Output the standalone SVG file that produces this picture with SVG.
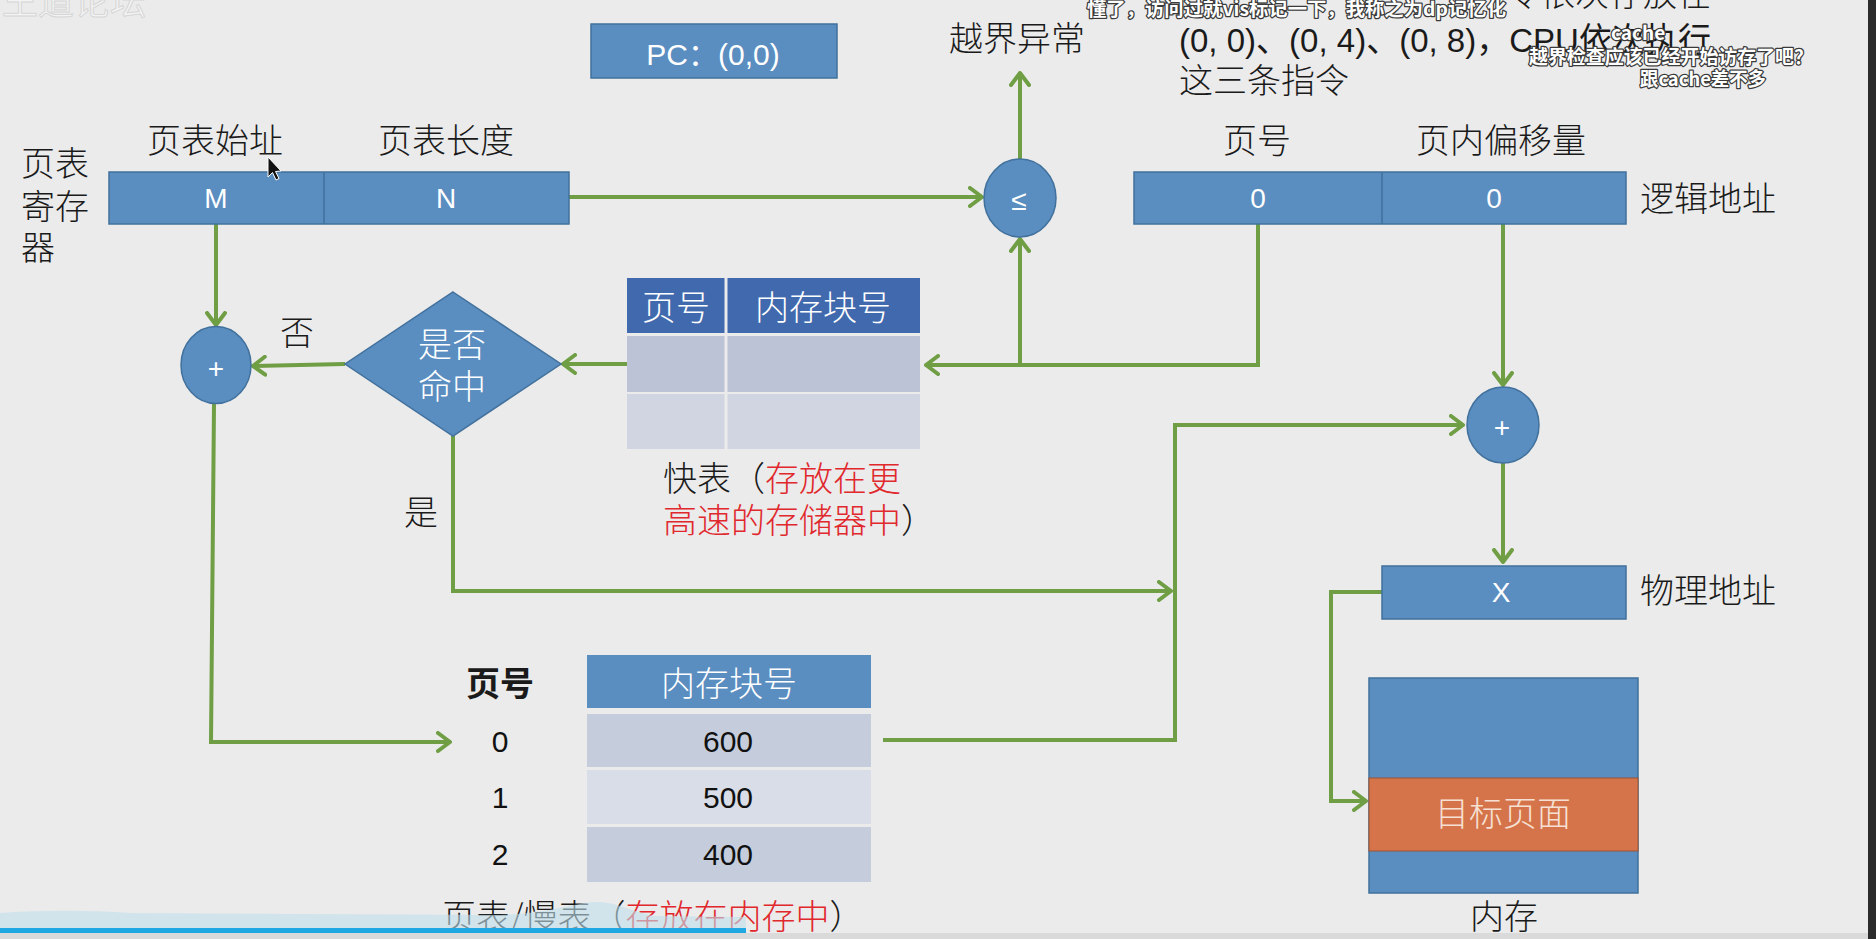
<svg xmlns="http://www.w3.org/2000/svg" width="1876" height="939" viewBox="0 0 1876 939">
<defs>
<style>
.bg{fill:#ebebeb}
.box{fill:#5a8dc0;stroke:#41719c;stroke-width:1.5}
.cj{font-family:"Noto Sans CJK SC",sans-serif;font-size:34px;font-weight:300;fill:#1a1a1a}
.cjw{font-family:"Noto Sans CJK SC",sans-serif;font-size:34px;font-weight:300;fill:#ffffff}
.lat{font-family:"Liberation Sans","Noto Sans CJK SC",sans-serif;font-size:28px;fill:#ffffff}
.num{font-family:"Liberation Sans","Noto Sans CJK SC",sans-serif;font-size:30px;fill:#111111}
.red{fill:#e0282d}
.mid{text-anchor:middle}
.con{fill:none;stroke:#6f9e45;stroke-width:4;stroke-linejoin:miter}
.arr{marker-end:url(#ah)}
.dm{font-family:"Noto Sans CJK SC",sans-serif;font-size:19px;font-weight:bold;fill:#ffffff;stroke:#3a3a3a;stroke-width:2.5;paint-order:stroke;stroke-linejoin:round}
</style>
<marker id="ah" viewBox="0 0 16 22" refX="14" refY="11" markerWidth="16" markerHeight="22" markerUnits="userSpaceOnUse" orient="auto">
<path d="M2,2 L14,11 L2,20" fill="none" stroke="#6f9e45" stroke-width="4" stroke-linecap="round" stroke-linejoin="round"/>
</marker>
</defs>

<rect class="bg" x="0" y="0" width="1876" height="939"/>

<!-- faint watermark -->
<text x="2" y="15" style="font-family:'Noto Sans CJK SC',sans-serif;font-size:36px;fill:#f3f3f3;stroke:#d6d6d6;stroke-width:1">王道论坛</text>

<!-- connectors -->
<g id="connectors">
<path class="con arr" d="M569,197 L982,197"/>
<path class="con arr" d="M1020,159 L1020,73"/>
<path class="con arr" d="M216,224 L216,325"/>
<path class="con arr" d="M1258,224 L1258,365 L926,365"/>
<path class="con arr" d="M1020,365 L1020,239"/>
<path class="con arr" d="M627,364 L563,364"/>
<path class="con arr" d="M345,364 L253,366"/>
<path class="con arr" d="M214,404 L211,742 L450,742"/>
<path class="con arr" d="M453,436 L453,591 L1171,591"/>
<path class="con arr" d="M883,740 L1175,740 L1175,425 L1463,425"/>
<path class="con arr" d="M1503,224 L1503,385"/>
<path class="con arr" d="M1503,463 L1503,562"/>
<path class="con arr" d="M1382,592 L1331,592 L1331,801 L1366,801"/>
</g>

<!-- PC -->
<g id="n-pc">
<rect class="box" x="591" y="24" width="246" height="54"/>
<text class="lat mid" x="713" y="65" style="font-size:30px">PC：(0,0)</text>
</g>

<!-- page table register -->
<g id="n-ptr">
<rect class="box" x="109" y="172" width="460" height="52"/>
<line x1="324" y1="172" x2="324" y2="224" stroke="#41719c" stroke-width="1.5"/>
<text class="lat mid" x="216" y="208">M</text>
<text class="lat mid" x="446" y="208">N</text>
<text class="cj mid" x="215" y="153">页表始址</text>
<text class="cj mid" x="446" y="153">页表长度</text>
<text class="cj" x="21" y="176">页表</text>
<text class="cj" x="21" y="219">寄存</text>
<text class="cj" x="21" y="260">器</text>
</g>

<!-- cursor -->
<path d="M268,157 L268,177 L272.5,172.5 L276,180 L279,178.5 L275.5,171.5 L281,171 Z" fill="#111" stroke="#fff" stroke-width="1"/>

<!-- compare -->
<g id="n-cmp">
<ellipse class="box" cx="1020" cy="198" rx="36" ry="39"/>
<text class="lat mid" x="1019" y="210">≤</text>
<text class="cj mid" x="1017" y="51">越界异常</text>
</g>

<!-- logical address -->
<g id="n-logical">
<rect class="box" x="1134" y="172" width="492" height="52"/>
<line x1="1382" y1="172" x2="1382" y2="224" stroke="#41719c" stroke-width="1.5"/>
<text class="lat mid" x="1258" y="208">0</text>
<text class="lat mid" x="1494" y="208">0</text>
<text class="cj mid" x="1257" y="153">页号</text>
<text class="cj mid" x="1501" y="153">页内偏移量</text>
<text class="cj" x="1640" y="211">逻辑地址</text>
</g>

<!-- instruction note -->
<g id="n-note">
<text class="cj" x="1711" y="6" text-anchor="end">令依次存放在</text>
<text x="1179" y="52" textLength="532" lengthAdjust="spacingAndGlyphs" style="font-family:'Liberation Sans','Noto Sans CJK SC',sans-serif;font-size:34px;fill:#1a1a1a">(0, 0)、(0, 4)、(0, 8)，CPU依次执行</text>
<text class="cj" x="1179" y="93">这三条指令</text>
</g>

<!-- adder 1 -->
<g id="n-add1">
<ellipse class="box" cx="216" cy="365" rx="35" ry="38.5"/>
<text class="lat mid" x="216" y="378">+</text>
<text class="cj mid" x="297" y="345">否</text>
</g>

<!-- decision -->
<g id="n-decision">
<polygon class="box" points="453,292 561,364 453,436 345,364"/>
<text class="cjw mid" x="452" y="357">是否</text>
<text class="cjw mid" x="452" y="399">命中</text>
<text class="cj mid" x="421" y="525">是</text>
</g>

<!-- TLB -->
<g id="n-tlb">
<rect x="627" y="278" width="293" height="55" fill="#4169ad"/>
<rect x="627" y="336" width="293" height="56" fill="#bdc3d6"/>
<rect x="627" y="394" width="293" height="55" fill="#d1d5e1"/>
<line x1="726" y1="278" x2="726" y2="449" stroke="#ebebeb" stroke-width="3"/>
<text class="cjw mid" x="676" y="320">页号</text>
<text class="cjw mid" x="823" y="320">内存块号</text>
<text class="cj" x="663" y="491">快表（<tspan class="red">存放在更</tspan></text>
<text class="cj" x="663" y="533"><tspan class="red">高速的存储器中</tspan>）</text>
</g>

<!-- page table -->
<g id="n-pt">
<rect x="587" y="655" width="284" height="53" fill="#5a8dc0"/>
<rect x="587" y="714" width="284" height="53" fill="#c5cddc"/>
<rect x="587" y="770" width="284" height="54" fill="#d9dde7"/>
<rect x="587" y="827" width="284" height="55" fill="#c5cddc"/>
<text class="cjw mid" x="729" y="696">内存块号</text>
<text class="cj mid" x="500" y="696" style="font-weight:bold">页号</text>
<text class="num mid" x="500" y="752">0</text>
<text class="num mid" x="500" y="808">1</text>
<text class="num mid" x="500" y="865">2</text>
<text class="num mid" x="728" y="752">600</text>
<text class="num mid" x="728" y="808">500</text>
<text class="num mid" x="728" y="865">400</text>
<text class="cj" x="442" y="929">页表/慢表（<tspan class="red">存放在内存中</tspan>）</text>
</g>

<!-- adder 2 -->
<g id="n-add2">
<ellipse class="box" cx="1503" cy="425" rx="36" ry="38"/>
<text class="lat mid" x="1502" y="437">+</text>
</g>

<!-- physical address -->
<g id="n-phys">
<rect class="box" x="1382" y="566" width="244" height="53"/>
<text class="lat mid" x="1501" y="602">X</text>
<text class="cj" x="1640" y="603">物理地址</text>
</g>

<!-- memory -->
<g id="n-mem">
<rect class="box" x="1369" y="678" width="269" height="215"/>
<rect x="1369" y="778" width="269" height="73" fill="#d5744a" stroke="#9c5535" stroke-width="1"/>
<text class="cj mid" x="1503" y="826" style="fill:#f6e0d4">目标页面</text>
<text class="cj mid" x="1504" y="929">内存</text>
</g>

<!-- video overlay: progress bar and edge -->
<path d="M0,928 L0,913 C40,910 90,910 130,913 L500,915 C555,913 575,902 598,902 C620,903 632,912 655,916 L746,917 L746,928 Z" fill="#bfe0ec" opacity="0.6"/>
<rect x="0" y="933" width="1868" height="6" fill="#dadada"/>
<rect x="0" y="928" width="746" height="5" fill="#20a8e2"/>
<rect x="1868" y="0" width="8" height="939" fill="#2b2b2b"/>

<!-- danmaku comments -->
<g id="danmaku">
<text class="dm" x="1087" y="16" textLength="419" lengthAdjust="spacingAndGlyphs">懂了，访问过就vis标记一下，我称之为dp记忆化</text>
<text class="dm" x="1611" y="40">cache</text>
<text class="dm" x="1529" y="64" textLength="284" lengthAdjust="spacingAndGlyphs">越界检查应该已经开始访存了吧？</text>
<text class="dm" x="1640" y="86" textLength="126" lengthAdjust="spacingAndGlyphs">跟cache差不多</text>
</g>
</svg>
